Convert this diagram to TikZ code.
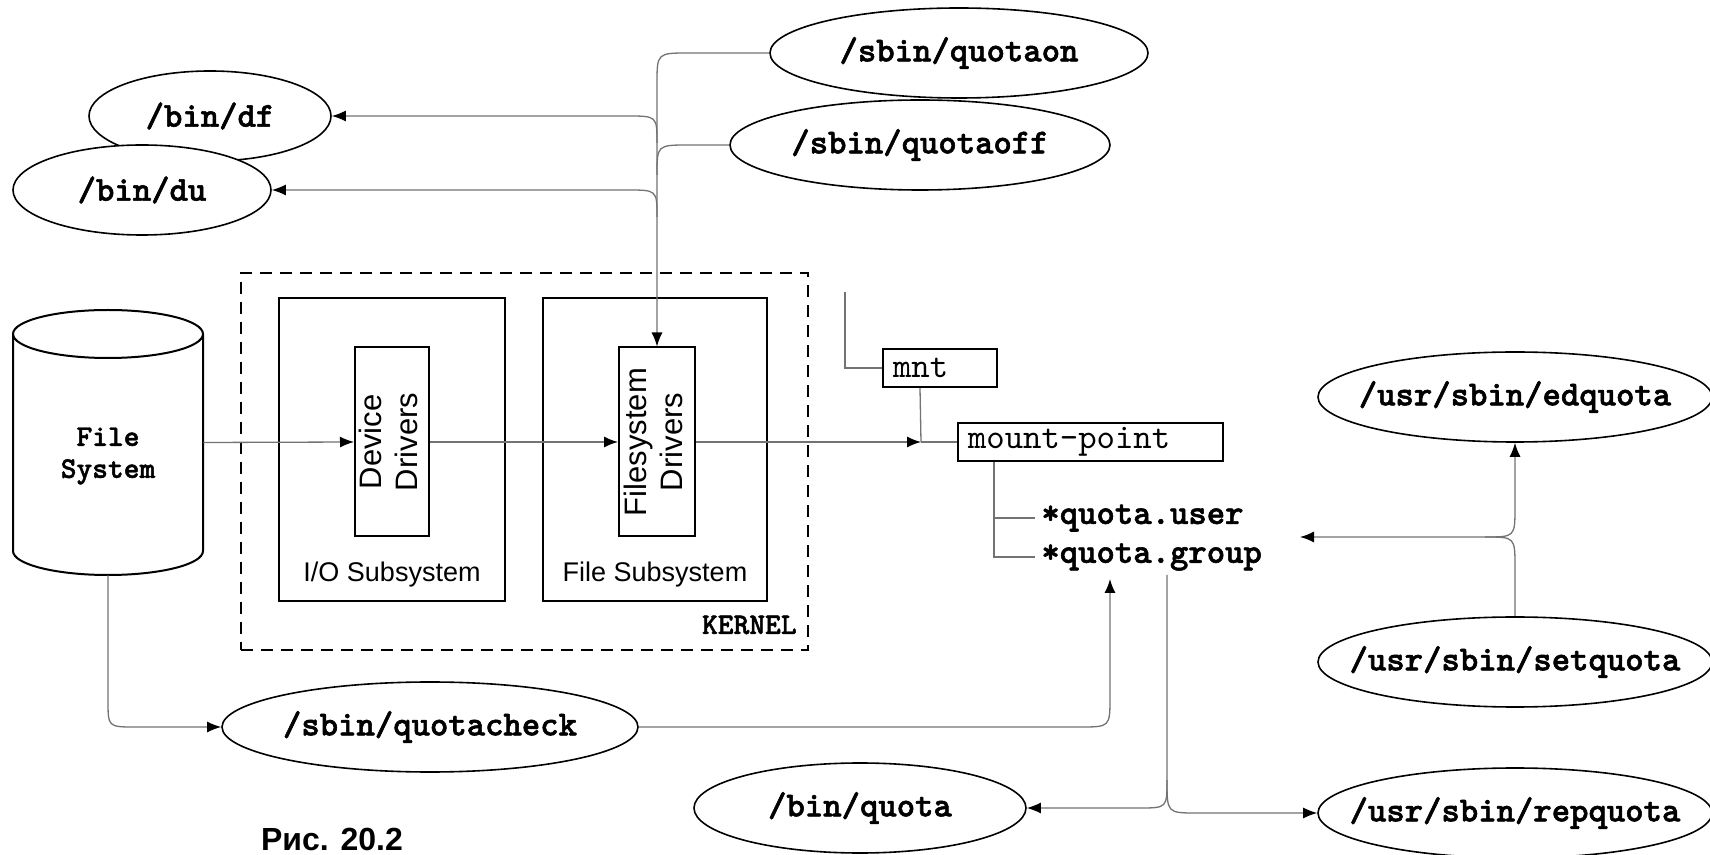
\documentclass[tikz,border=0pt]{standalone}
\usepackage{fontspec}
\usepackage{graphicx}
\newfontfamily\arial{Liberation Sans}
\newfontfamily\monob{lmmonolt10-bold.otf}[FakeBold=1.6]
\newfontfamily\monor{lmmono10-regular.otf}
\usetikzlibrary{arrows.meta,shapes.geometric}
\tikzset{
  conn/.style={draw=black!55, line width=0.65pt},
  arr/.style={-{Latex[length=7pt,width=5.5pt,color=black]}},
  ell/.style={ellipse, draw, line width=0.8pt, fill=white, inner xsep=-30pt, inner ysep=0pt,
    minimum height=45pt, font=\monob\fontsize{17.5pt}{20pt}\selectfont},
  box/.style={rectangle, draw, line width=1pt, inner sep=0pt},
  tbox/.style={box, align=left, inner xsep=5pt, inner ysep=0pt, minimum height=19pt,
    font=\monor\fontsize{17.5pt}{20pt}\selectfont},
  lab/.style={inner sep=0pt, font=\arial\fontsize{13.5pt}{16pt}\selectfont},
  rlab/.style={font=\arial\fontsize{15.5pt}{18pt}\selectfont},
  qtxt/.style={anchor=west, inner xsep=3pt, inner ysep=0pt, font=\monob\fontsize{17.5pt}{20pt}\selectfont},
  small/.style={inner sep=0pt, font=\monob\fontsize{15pt}{16pt}\selectfont, align=center}
}
\begin{document}
\begin{tikzpicture}[x=0.5pt,y=-0.5pt]
\useasboundingbox (0,0) rectangle (1710,855);
\fill[white] (0,0) rectangle (1710,855);

% kernel area
\node[box, dashed, dash pattern=on 6pt off 4pt, minimum width=283.5pt, minimum height=188.5pt] (kernel) at (524.5,461.5) {};
\node[box, minimum width=113pt, minimum height=151.5pt] (iosub) at (392,449.5) {};
\node[box, minimum width=112pt, minimum height=151.5pt] (filesub) at (655,449.5) {};
\node[box, rlab, inner sep=0pt, minimum width=37pt, minimum height=94.5pt] (devdrv) at (392,442)
  {\rotatebox{90}{\begin{tabular}{@{}c@{}}Device\\Drivers\end{tabular}}};
\node[box, rlab, inner sep=0pt, minimum width=38pt, minimum height=94.5pt] (fsdrv) at (657,442)
  {\rotatebox{90}{\begin{tabular}{@{}c@{}}Filesystem\\Drivers\end{tabular}}};
\node[lab] (iolab) at (392,575) {I/O Subsystem};
\node[lab] (fslab) at (655,575) {File Subsystem};
\node[small, anchor=east] (klab) at (797,625) {KERNEL};

% cylinder
\draw[line width=1pt, fill=white] (13,334) -- (13,551)
  arc[start angle=180, end angle=360, x radius=47.5pt, y radius=12pt] -- (203,334)
  arc[start angle=0, end angle=180, x radius=47.5pt, y radius=12pt] -- cycle;
\draw[line width=1pt] (13,334) arc[start angle=180, end angle=360, x radius=47.5pt, y radius=12pt];
\node[inner sep=0pt, minimum width=95pt, minimum height=132.5pt] (fs) at (108,442.5) {};
\node[small] (fstext) at (108,456) {File\\System};

% mount boxes
\node[tbox, minimum width=57pt, text width=47pt] (mnt) at (940,368) {mnt};
\node[tbox, minimum width=132.5pt, text width=122.5pt] (mp) at (1090.5,442) {mount-point};
\node[qtxt] (quser) at (1035,518) {*quota.user};
\node[qtxt] (qgroup) at (1035,557) {*quota.group};

% ellipses
\node[ell, minimum width=189pt] (quotaon) at (959,53) {/sbin/quotaon};
\node[ell, minimum width=190pt] (quotaoff) at (920,145) {/sbin/quotaoff};
\node[ell, minimum width=121pt] (df) at (210,116) {/bin/df};
\node[ell, minimum width=129pt] (du) at (142,190) {/bin/du};
\node[ell, minimum width=208pt] (qcheck) at (430,727) {/sbin/quotacheck};
\node[ell, minimum width=166pt] (bquota) at (860,808) {/bin/quota};
\node[ell, minimum width=197pt] (edquota) at (1515,397) {/usr/sbin/edquota};
\node[ell, minimum width=197pt] (setquota) at (1515,662) {/usr/sbin/setquota};
\node[ell, minimum width=197pt] (repquota) at (1515,813) {/usr/sbin/repquota};

\node[inner sep=0pt, font=\arial\bfseries\fontsize{16pt}{18pt}\selectfont] (cap) at (332,839) {Рис. 20.2};

% free ends
\coordinate (mj) at (921,442);
\coordinate (mtop) at (845,292);
\coordinate (qf) at (1300,537);
\coordinate (qc) at (1110,579);
\coordinate (qg2) at (1167,575);

% connectors: top
\draw[conn, arr] (quotaon.west) -- (689,53) .. controls (657,53) .. (657,84) -- (fsdrv.north);
\draw[conn] (quotaoff.west) -- (689,145) .. controls (657,145) .. (657,175);
\draw[conn, arr] (657,143) .. controls (657,116) .. (627,116) -- (df.east);
\draw[conn, arr] (657,217) .. controls (657,190) .. (627,190) -- (du.east);

% main line
\draw[conn, arr] (fs.east) -- (devdrv.west);
\draw[conn, arr] (devdrv.east) -- (fsdrv.west);
\draw[conn, arr] (fsdrv.east) -- (mj);
\draw[conn] (mj) -- (mp.west);
\draw[conn] (mtop) |- (mnt.west);
\draw[conn] ([xshift=19pt]mnt.south west) -- (mj);

% quota files
\draw[conn] ([xshift=18.5pt]mp.south west) coordinate (mpb) |- (quser.west);
\draw[conn] (mpb) |- (qgroup.west);

% quotacheck
\draw[conn, arr] (fs.south) -- (108,700) .. controls (108,727) .. (135,727) -- (qcheck.west);
\draw[conn, arr] (qcheck.east) -- (1080,727) .. controls (1110,727) .. (1110,697) -- (qc);

% quota / repquota
\draw[conn, arr] (qg2) -- (1167,780) .. controls (1167,808) .. (1139,808) -- (bquota.east);
\draw[conn, arr] (1167,780) .. controls (1167,813) .. (1197,813) -- (repquota.west);

% edquota / setquota
\draw[conn, arr] (setquota.north) -- (1515,567) .. controls (1515,537) .. (1485,537) -- (qf);
\draw[conn, arr] (1485,537) .. controls (1515,537) .. (1515,507) -- (edquota.south);
\end{tikzpicture}
\end{document}
